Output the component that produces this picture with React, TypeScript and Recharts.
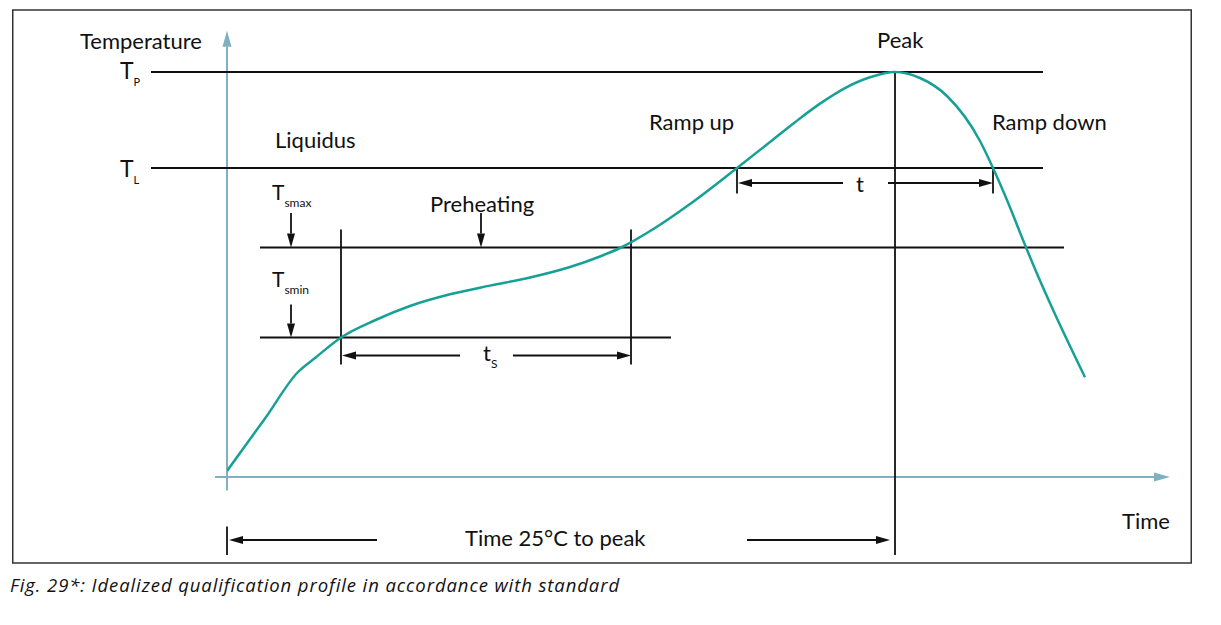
import React from "react";
import {
  ComposedChart,
  Line,
  XAxis,
  YAxis,
  ReferenceLine,
  ReferenceDot,
} from "recharts";

// reflow profile: time (s) and temperature (°C)
const profileTime = [
  0, 19, 35.5, 44, 57, 74, 91.5, 111.5, 131.5, 151.5, 171.5, 186.5, 197, 214,
  231.5, 255, 271.5, 284, 296.5, 309, 321.5, 334, 346.5, 360, 376.5, 383,
  390.5, 398, 405.5, 413, 429,
];
const profileTemp = [
  25, 60, 91, 100.3, 114, 125.5, 135, 142.8, 148.6, 154, 161, 168, 174,
  187, 203, 227, 244.3, 257.5, 269.9, 280.3, 287.5, 291, 287, 275, 245, 227,
  204, 179, 155, 132.5, 87.5,
];

// characteristic levels
const T_PEAK = 291;
const T_LIQUIDUS = 227;
const TS_MAX = 174;
const TS_MIN = 114;
const T_BASE = 21;

// characteristic times
const SOAK_START = 57;
const SOAK_END = 202;
const LIQ_UP = 255;
const PEAK_TIME = 334;
const LIQ_DOWN = 383;

const data = profileTime.map((time, i) => ({ time, temp: profileTemp[i] }));

const INK = "#111";
const AXIS = "#7fb1c1";
const CURVE = "#17a096";
const FONT = "Lato, 'Open Sans', sans-serif";

const arrow =
  (color: string, width: number, len: number, half: number) =>
  (p: any) => {
    const { x1, y1, x2, y2 } = p;
    const a = Math.atan2(y2 - y1, x2 - x1);
    const bx = x2 - len * Math.cos(a);
    const by = y2 - len * Math.sin(a);
    const px = -Math.sin(a) * half;
    const py = Math.cos(a) * half;
    return (
      <g>
        <line x1={x1} y1={y1} x2={bx} y2={by} stroke={color} strokeWidth={width} />
        <polygon
          points={`${x2},${y2} ${bx + px},${by + py} ${bx - px},${by - py}`}
          fill={color}
        />
      </g>
    );
  };

const inkArrow = arrow(INK, 1.8, 14, 4);
const axisArrow = arrow(AXIS, 2, 16, 4.5);

const label =
  (text: string, size: number, sub?: string, subSize = 12, subDy = 7, anchor = "start") =>
  (p: any) => (
    <text
      x={p.cx}
      y={p.cy}
      fontFamily={FONT}
      fontSize={size}
      fill={INK}
      textAnchor={anchor}
    >
      {text}
      {sub && (
        <tspan fontSize={subSize} dy={subDy}>
          {sub}
        </tspan>
      )}
    </text>
  );

const seg = (x1: number, y1: number, x2: number, y2: number) => [
  { x: x1, y: y1 },
  { x: x2, y: y2 },
];

export default function App() {
  const line = { stroke: INK, strokeWidth: 1.8, ifOverflow: "visible" as const };
  return (
    <div
      style={{
        position: "absolute",
        left: 0,
        top: 0,
        width: 1221,
        height: 625,
        background: "#fff",
      }}
    >
      <svg
        width={1221}
        height={625}
        style={{ position: "absolute", left: 0, top: 0 }}
      >
        <rect x={12.75} y={10} width={1178.5} height={553} fill="none" stroke="#333" strokeWidth={1.5} />
        <text
          x={10}
          y={592}
          fontFamily="'Open Sans', Lato, sans-serif"
          fontStyle="italic"
          fontSize={18.5}
          letterSpacing={0.9}
          fill={INK}
        >
          Fig. 29*: Idealized qualification profile in accordance with standard
        </text>
      </svg>
      <div style={{ position: "absolute", left: 0, top: 0 }}>
        <ComposedChart
          width={1221}
          height={625}
          data={data}
          margin={{ top: 27, right: 54, bottom: 148, left: 227 }}
        >
          <XAxis dataKey="time" type="number" domain={[0, 470]} hide allowDataOverflow />
          <YAxis type="number" domain={[T_BASE, 321]} hide allowDataOverflow />

          {/* axes */}
          <ReferenceLine segment={seg(-6, T_BASE, 471.5, T_BASE)} ifOverflow="visible" shape={axisArrow} />
          <ReferenceLine segment={seg(0, 12, 0, 318.5)} ifOverflow="visible" shape={axisArrow} />

          {/* temperature levels */}
          <ReferenceLine segment={seg(-38, T_PEAK, 408, T_PEAK)} {...line} />
          <ReferenceLine segment={seg(-38, T_LIQUIDUS, 408, T_LIQUIDUS)} {...line} />
          <ReferenceLine segment={seg(16.5, TS_MAX, 418.5, TS_MAX)} {...line} />
          <ReferenceLine segment={seg(16.5, TS_MIN, 222, TS_MIN)} {...line} />

          {/* soak window */}
          <ReferenceLine segment={seg(SOAK_START, 96, SOAK_START, 186)} {...line} />
          <ReferenceLine segment={seg(SOAK_END, 96, SOAK_END, 186)} {...line} />
          <ReferenceLine segment={seg(116.5, 102, SOAK_START + 0.5, 102)} ifOverflow="visible" shape={inkArrow} />
          <ReferenceLine segment={seg(143, 102, SOAK_END, 102)} ifOverflow="visible" shape={inkArrow} />

          {/* time above liquidus */}
          <ReferenceLine segment={seg(LIQ_UP, T_LIQUIDUS, LIQ_UP, 210)} {...line} />
          <ReferenceLine segment={seg(LIQ_DOWN, T_LIQUIDUS, LIQ_DOWN, 210)} {...line} />
          <ReferenceLine segment={seg(308, 217, LIQ_UP + 0.5, 217)} ifOverflow="visible" shape={inkArrow} />
          <ReferenceLine segment={seg(330.5, 217, LIQ_DOWN, 217)} ifOverflow="visible" shape={inkArrow} />

          {/* peak and time to peak */}
          <ReferenceLine segment={seg(PEAK_TIME, T_PEAK, PEAK_TIME, -31)} {...line} />
          <ReferenceLine segment={seg(0, -12, 0, -31)} {...line} />
          <ReferenceLine segment={seg(75, -21, 1, -21)} ifOverflow="visible" shape={inkArrow} />
          <ReferenceLine segment={seg(260, -21, 331.5, -21)} ifOverflow="visible" shape={inkArrow} />

          {/* pointer arrows */}
          <ReferenceLine segment={seg(32, 197, 32, TS_MAX)} ifOverflow="visible" shape={inkArrow} />
          <ReferenceLine segment={seg(32, 136, 32, TS_MIN)} ifOverflow="visible" shape={inkArrow} />
          <ReferenceLine segment={seg(127, 197, 127, TS_MAX)} ifOverflow="visible" shape={inkArrow} />

          <Line
            type="monotone"
            dataKey="temp"
            stroke={CURVE}
            strokeWidth={2.5}
            dot={false}
            activeDot={false}
            isAnimationActive={false}
          />

          {/* text */}
          <ReferenceDot x={-73.5} y={306.3} ifOverflow="visible" shape={label("Temperature", 22)} />
          <ReferenceDot x={-53.5} y={286.3} ifOverflow="visible" shape={label("T", 23, "P", 11, 7)} />
          <ReferenceDot x={-53.5} y={221} ifOverflow="visible" shape={label("T", 23, "L", 11, 7)} />
          <ReferenceDot x={24} y={240.3} ifOverflow="visible" shape={label("Liquidus", 22)} />
          <ReferenceDot x={22.5} y={205.7} ifOverflow="visible" shape={label("T", 21, "smax", 12, 7)} />
          <ReferenceDot x={22.5} y={147.7} ifOverflow="visible" shape={label("T", 21, "smin", 12, 7)} />
          <ReferenceDot x={101.5} y={197.7} ifOverflow="visible" shape={label("Preheating", 22)} />
          <ReferenceDot x={128} y={98.5} ifOverflow="visible" shape={label("t", 22, "S", 12, 7)} />
          <ReferenceDot x={211} y={252.3} ifOverflow="visible" shape={label("Ramp up", 22)} />
          <ReferenceDot x={325} y={307} ifOverflow="visible" shape={label("Peak", 22)} />
          <ReferenceDot x={382.5} y={252.3} ifOverflow="visible" shape={label("Ramp down", 22)} />
          <ReferenceDot x={316.5} y={211} ifOverflow="visible" shape={label("t", 22, undefined, 12, 7, "middle")} />
          <ReferenceDot x={447.5} y={-13.7} ifOverflow="visible" shape={label("Time", 22)} />
          <ReferenceDot x={119} y={-25} ifOverflow="visible" shape={label("Time 25°C to peak", 22)} />
        </ComposedChart>
      </div>
    </div>
  );
}
